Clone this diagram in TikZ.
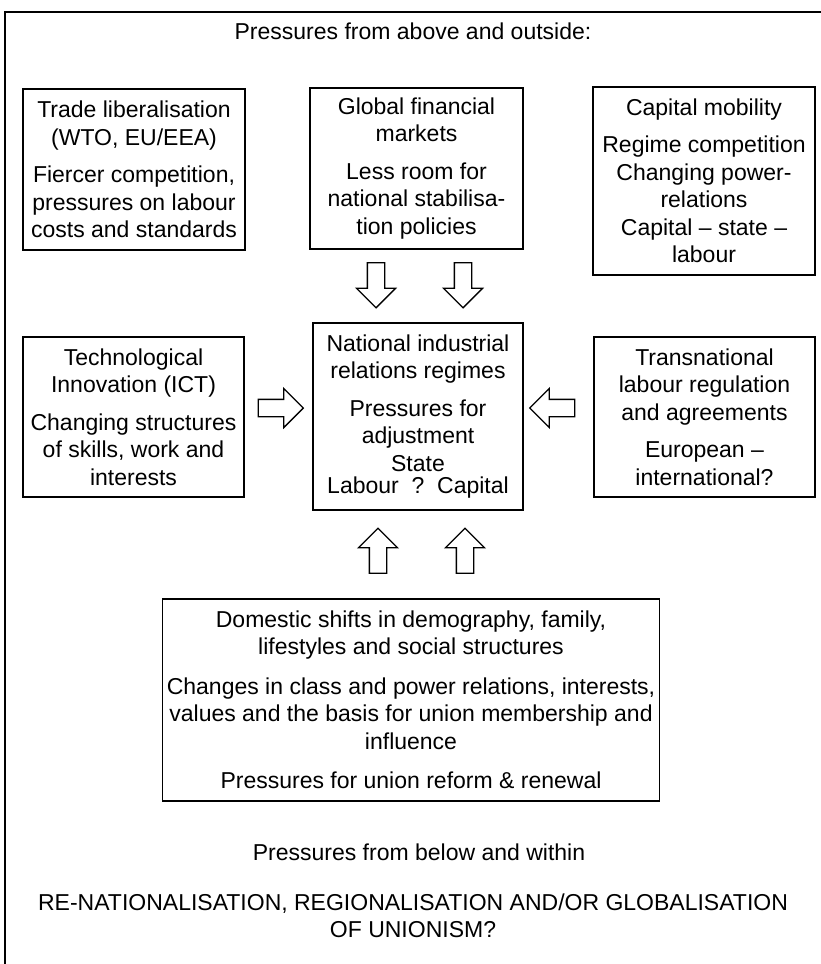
\documentclass[tikz,border=0pt]{standalone}
\usepackage{fontspec}
\setmainfont{Liberation Sans}
\usetikzlibrary{positioning,shapes.arrows}

\begin{document}
\begin{tikzpicture}[
    x=1pt, y=-1pt,
    font=\fontsize{23}{27.5}\selectfont,
    box/.style={draw, line width=1.3pt, align=center, inner sep=4pt},
    blockarrow/.style={draw, line width=1.3pt, single arrow, single arrow head extend=11pt,
        inner xsep=0pt, inner ysep=8pt, minimum height=45pt},
    caption/.style={align=center, inner sep=0pt}
]
\useasboundingbox (0,0) rectangle (821,964);

% Frame
\draw[line width=2.5pt] (821,12) -- (5,12) -- (5,964);

\node[caption] (above) at (413,31) {Pressures from above and outside:};

% Top row
\node[box, minimum width=222pt, minimum height=161pt] (trade) at (134,169.5)
    {Trade liberalisation\\(WTO, EU/EEA)\\[10pt]Fiercer competition,\\pressures on labour\\costs and standards};
\node[box, minimum width=213pt, minimum height=161pt] (finance) at (416.5,168.5)
    {Global financial\\markets\\[10pt]Less room for\\national stabilisa-\\tion policies};
\node[box, minimum width=222pt, minimum height=188pt] (capital) at (704,181)
    {Capital mobility\\[10pt]Regime competition\\Changing power-\\relations\\Capital -- state --\\labour};

% Middle row
\node[box, minimum width=221pt, minimum height=160pt] (tech) at (133.5,417)
    {Technological\\Innovation (ICT)\\[10pt]Changing structures\\of skills, work and\\interests};
\node[box, minimum width=210pt, minimum height=187pt] (national) at (418,416.5)
    {National industrial\\relations regimes\\[10pt]Pressures for\\adjustment\\State\\[-5pt]Labour~~?~~Capital};
\node[box, minimum width=221pt, minimum height=160pt] (transnat) at (704.5,417)
    {Transnational\\labour regulation\\and agreements\\[10pt]European --\\international?};

% Bottom box
\node[box, minimum width=482pt, minimum height=202pt] (domestic) at (411,700)
    {Domestic shifts in demography, family,\\lifestyles and social structures\\[12pt]Changes in class and power relations, interests,\\values and the basis for union membership and\\influence\\[12pt]Pressures for union reform \& renewal};

% Block arrows
\node[blockarrow, rotate=-90] (down1) at (376,281) {};
\node[blockarrow, rotate=-90] (down2) at (463,281) {};
\node[blockarrow] (right1) at (276.5,408) {};
\node[blockarrow, rotate=180] (left1) at (556.5,408) {};
\node[blockarrow, rotate=90] (up1) at (378,555) {};
\node[blockarrow, rotate=90] (up2) at (465,555) {};

% Captions below
\node[caption] (below) at (419,852) {Pressures from below and within};
\node[caption] (question) at (413,916)
    {RE-NATIONALISATION, REGIONALISATION AND/OR GLOBALISATION\\OF UNIONISM?};

\end{tikzpicture}
\end{document}
